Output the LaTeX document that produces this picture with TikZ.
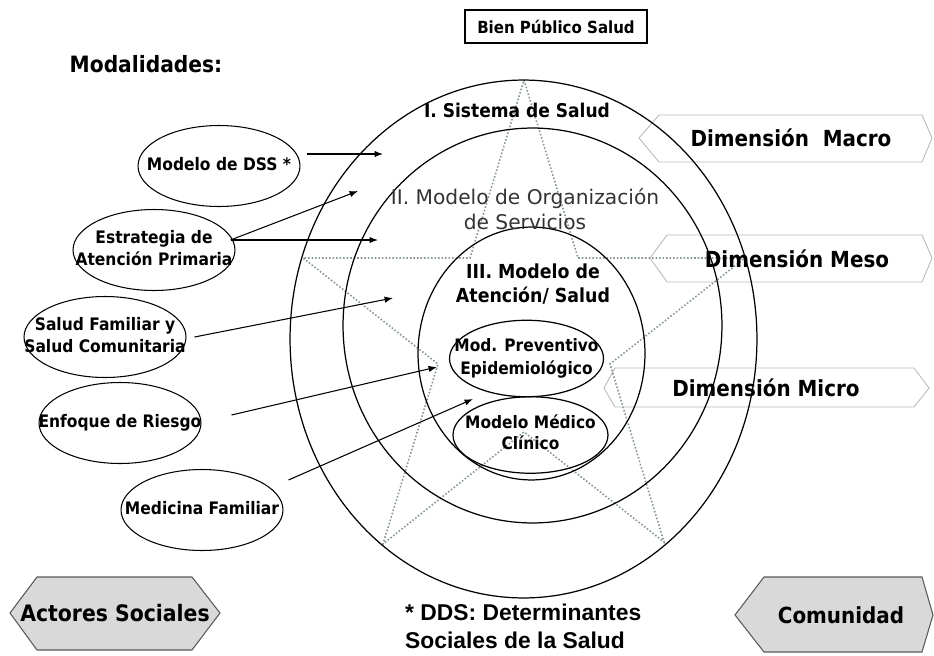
\documentclass[tikz,border=0pt]{standalone}
\usepackage{fontspec}
\setmainfont{DejaVu Sans}
\newfontfamily\tahfont{DejaVu Sans}[FakeStretch=0.9]
\newfontfamily\arifont{Liberation Sans}
\usetikzlibrary{arrows.meta, shapes.geometric}

\definecolor{stargray}{RGB}{135,150,150}
\newcommand{\tah}[2]{\tahfont\bfseries\fontsize{#1}{#2}\selectfont}
\newcommand{\inell}[1]{\makebox[0pt]{\begin{tabular}{@{}c@{}}#1\end{tabular}}}

\begin{document}
\begin{tikzpicture}[
  x=0.02cm, y=-0.02cm,
  font=\tah{9.8}{12.5},
  modal/.style={draw, ellipse, inner sep=0pt, line width=0.6pt,
    minimum width=3.24cm, minimum height=1.62cm},
  ring/.style={draw, ellipse, inner sep=0pt, line width=0.7pt},
  inner/.style={draw, ellipse, inner sep=0pt, line width=0.7pt,
    minimum width=3.08cm, minimum height=1.53cm},
  lvl/.style={align=center, font=\tah{11}{14}},
  dim/.style={font=\tah{12.6}{15}},
  dimbox/.style={draw=gray!55, line width=0.5pt},
  actor/.style={draw=black!65, fill=black!15, line width=0.6pt},
  star/.style={stargray, line width=0.9pt, dash pattern=on 0.9pt off 1.1pt},
  arrow/.style={-{Latex[length=4.8pt,width=3.6pt]}, line width=0.6pt},
]
  \useasboundingbox (0,0) rectangle (934,656);

  \draw[dimbox] (639,138) -- (659,115) -- (922,115) -- (932,138) -- (922,162) -- (659,162) -- cycle;
  \draw[dimbox] (650,258) -- (667,235) -- (922,235) -- (932,258) -- (922,282) -- (667,282) -- cycle;
  \draw[dimbox] (604,388) -- (615,368) -- (914,368) -- (929,388) -- (914,407) -- (615,407) -- cycle;

  \draw[star] (524,80) -- (578,258) -- (745,258) -- (610,364) -- (664,542) -- (524,432)
    -- (383,544) -- (438,364) -- (303,258) -- (470,258) -- cycle;

  \node[ring, minimum width=9.34cm, minimum height=10.36cm] (sys) at (523.5,339) {};
  \node[ring, minimum width=7.58cm, minimum height=7.9cm] (org) at (532.5,325.5) {};
  \node[ring, minimum width=4.54cm, minimum height=5.06cm] (aten) at (531.5,353.5) {};
  \node[inner, font=\tah{9.75}{13}] (prev) at (526.5,358.5) {\inell{Mod. Preventivo\\Epidemiológico}};
  \node[inner, minimum width=3.1cm, font=\tah{9.75}{11.5}] (clin) at (530.5,435) {\inell{Modelo Médico\\Clínico}};

  \node[lvl, font=\tah{10.8}{14}] (lsys) at (517,110) {I. Sistema de Salud};
  \node[align=center, text=black!80, font=\rmfamily\fontsize{11.5}{14}\selectfont] (lorg) at (525,209)
    {II. Modelo de Organización\\de Servicios};
  \node[lvl] (laten) at (533,284) {III. Modelo de\\Atención/ Salud};

  \node[draw, line width=0.6pt, minimum width=3.64cm, minimum height=0.66cm, font=\tah{9.5}{11}] (bien)
    at (556,26.5) {Bien Público Salud};
  \node[font=\tah{12.8}{15}] (moda) at (146,64) {Modalidades:};

  \node[modal] (dss) at (219,166) {\inell{Modelo de DSS *}};
  \node[modal] (estr) at (154,250) {\inell{Estrategia de\\Atención Primaria}};
  \node[modal] (sfam) at (105,337) {\inell{Salud Familiar y\\Salud Comunitaria}};
  \node[modal] (enf) at (120,423) {\inell{Enfoque de Riesgo}};
  \node[modal] (medf) at (202,510) {\inell{Medicina Familiar}};

  \node[dim] (macro) at (791,138) {Dimensión\ \ Macro};
  \node[dim] (meso) at (797,259) {Dimensión Meso};
  \node[dim] (micro) at (766,388) {Dimensión Micro};

  \draw[actor] (10,613) -- (37,577) -- (192,577) -- (220,613) -- (192,650) -- (37,650) -- cycle;
  \node[dim, font=\tah{12.9}{15}] (actores) at (115,613) {Actores Sociales};
  \draw[actor] (735,615) -- (764,577) -- (922,577) -- (933,615) -- (922,652) -- (764,652) -- cycle;
  \node[dim] (comu) at (841,615) {Comunidad};

  \node[anchor=west, align=left, font=\arifont\bfseries\fontsize{13}{16}\selectfont] (dds) at (399,626)
    {* DDS: Determinantes\\Sociales de la Salud};

  \coordinate (t1) at (383,154);
  \coordinate (t2) at (358,191);
  \coordinate (t3) at (378,240);
  \coordinate (t4) at (393,298);
  \coordinate (t5) at (437,367);
  \coordinate (t6) at (473,399);

  \draw[arrow] ([shift={(6,-12)}]dss.east) -- (t1);
  \draw[arrow] ([shift={(-5,-10)}]estr.east) -- (t2);
  \draw[arrow] ([shift={(-5,-10)}]estr.east) -- (t3);
  \draw[arrow] ([shift={(8,0)}]sfam.east) -- (t4);
  \draw[arrow] ([shift={(30,-8)}]enf.east) -- (t5);
  \draw[arrow] ([shift={(5,-30)}]medf.east) -- (t6);
\end{tikzpicture}
\end{document}
